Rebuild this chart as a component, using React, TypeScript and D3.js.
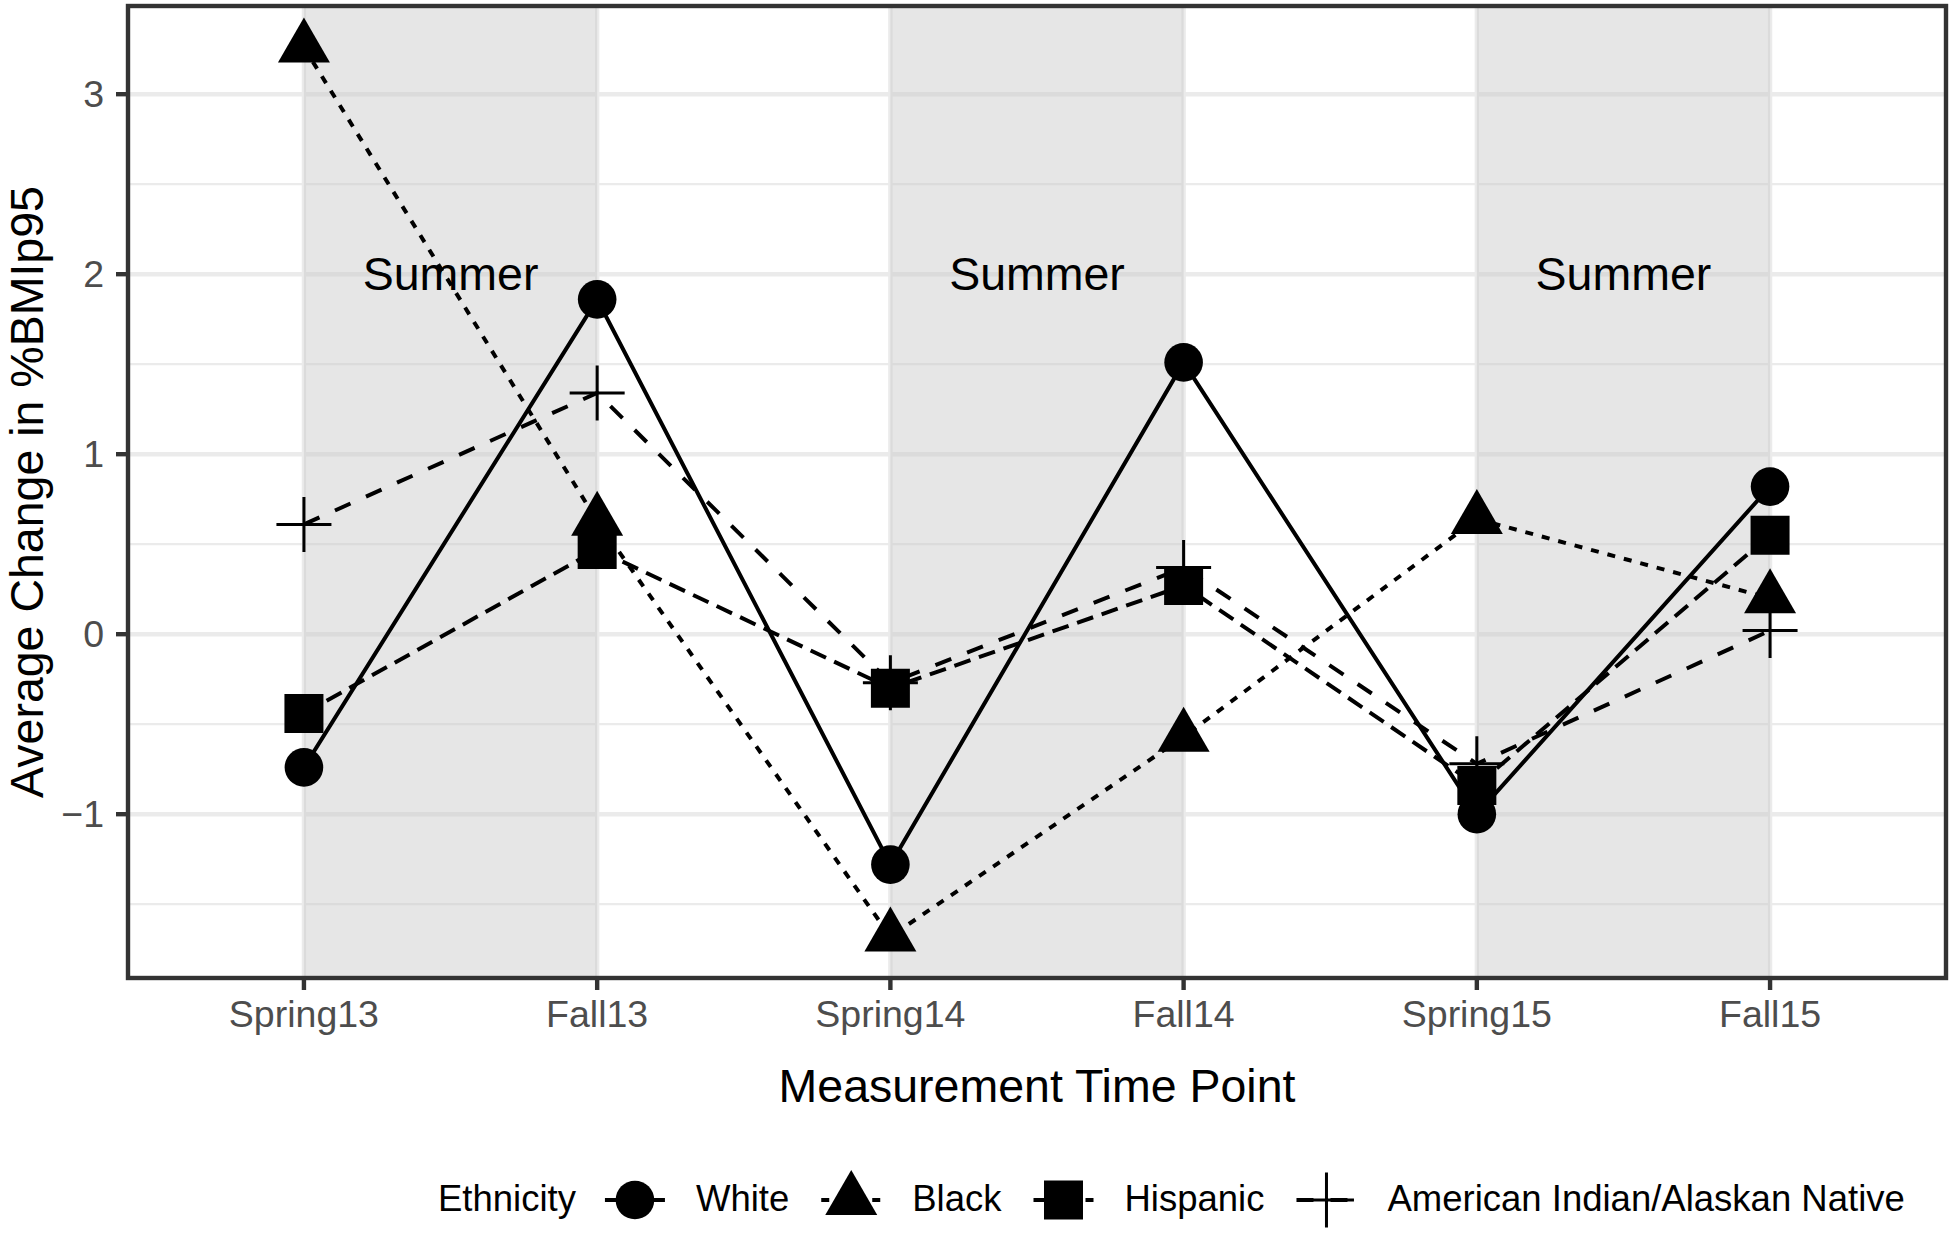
import React from "react";
import * as d3 from "d3";

// ---------- data ----------
const categories = ["Spring13", "Fall13", "Spring14", "Fall14", "Spring15", "Fall15"];
const seriesNames = ["White", "Black", "Hispanic", "American Indian/Alaskan Native"];
const whiteValues = [-0.74, 1.86, -1.28, 1.51, -1.0, 0.82];
const blackValues = [3.26, 0.63, -1.68, -0.57, 0.64, 0.2];
const hispanicValues = [-0.44, 0.47, -0.3, 0.27, -0.84, 0.55];
const aianValues = [0.61, 1.34, -0.27, 0.37, -0.72, 0.02];
const yMajorTicks = [-1, 0, 1, 2, 3];
const yMinorTicks = [-1.5, -0.5, 0.5, 1.5, 2.5];
const summerSpans: [string, string][] = [
  ["Spring13", "Fall13"],
  ["Spring14", "Fall14"],
  ["Spring15", "Fall15"],
];
const summerLabel = "Summer";
const summerLabelValue = 2;
const legendTitle = "Ethnicity";
const xTitle = "Measurement Time Point";
const yTitle = "Average Change in %BMIp95";

// ---------- styles ----------
const W = 1950;
const H = 1233;
const FONT = "'Liberation Sans', Arial, Helvetica, sans-serif";
const panel = { left: 128, right: 1946, top: 6, bottom: 978 };
const yDomain: [number, number] = [-1.91, 3.49];
const shapes = ["circle", "triangle", "square", "plus"];
const dashes = ["none", "8 9", "17 9", "17 17"];
const LINE_W = 4;
const GRID_MAJOR = 4.4;
const GRID_MINOR = 2.2;
const TICK_FONT = 37.5;

const seriesValues = [whiteValues, blackValues, hispanicValues, aianValues];

function measure(text: string, size: number) {
  const c = document.createElement("canvas").getContext("2d");
  if (!c) return text.length * size * 0.55;
  c.font = `${size}px 'Liberation Sans', Arial, sans-serif`;
  return c.measureText(text).width;
}

function Marker({ shape, x, y }: { shape: string; x: number; y: number }) {
  if (shape === "plus") {
    const a = 27.5;
    return (
      <path
        d={`M${x - a},${y}H${x + a}M${x},${y - a}V${y + a}`}
        stroke="#000"
        strokeWidth={3}
        fill="none"
      />
    );
  }
  let sym = d3.symbolCircle;
  let size = Math.PI * 19.3 * 19.3;
  if (shape === "triangle") {
    sym = d3.symbolTriangle;
    size = (Math.sqrt(3) / 4) * 52 * 52;
  } else if (shape === "square") {
    sym = d3.symbolSquare;
    size = 39 * 39;
  }
  const p = d3.symbol().type(sym).size(size)();
  return <path d={p || ""} transform={`translate(${x},${y})`} fill="#000" />;
}

export default function App() {
  const x = d3
    .scalePoint<string>()
    .domain(categories)
    .range([panel.left, panel.right])
    .padding(0.6);
  const y = d3.scaleLinear().domain(yDomain).range([panel.bottom, panel.top]);

  const line = d3
    .line<number>()
    .x((_, i) => x(categories[i]) as number)
    .y((d) => y(d));

  // legend layout
  const legendFont = 36.5;
  const legendY = 1200;
  let lx = 438;
  const titleX = lx;
  lx += measure(legendTitle, legendFont) + 29;
  const legendItems = seriesNames.map((name, i) => {
    const keyX = lx;
    const labelX = keyX + 60 + 31;
    lx = labelX + measure(name, legendFont) + 32;
    return { name, i, keyX, labelX };
  });

  const panelW = panel.right - panel.left;
  const panelH = panel.bottom - panel.top;

  return (
    <svg
      width={W}
      height={H}
      style={{ position: "absolute", left: 0, top: 0, background: "#fff" }}
      fontFamily={FONT}
    >
      <rect x={0} y={0} width={W} height={H} fill="#fff" />
      <defs>
        <clipPath id="panelClip">
          <rect x={panel.left} y={panel.top} width={panelW} height={panelH} />
        </clipPath>
      </defs>
      <g clipPath="url(#panelClip)">
        {yMinorTicks.map((t) => (
          <line
            key={"mn" + t}
            x1={panel.left}
            x2={panel.right}
            y1={y(t)}
            y2={y(t)}
            stroke="#EBEBEB"
            strokeWidth={GRID_MINOR}
          />
        ))}
        {yMajorTicks.map((t) => (
          <line
            key={"mj" + t}
            x1={panel.left}
            x2={panel.right}
            y1={y(t)}
            y2={y(t)}
            stroke="#EBEBEB"
            strokeWidth={GRID_MAJOR}
          />
        ))}
        {categories.map((c) => (
          <line
            key={"vx" + c}
            x1={x(c)}
            x2={x(c)}
            y1={panel.top}
            y2={panel.bottom}
            stroke="#EBEBEB"
            strokeWidth={GRID_MAJOR}
          />
        ))}
        {summerSpans.map(([a, b]) => (
          <rect
            key={"s" + a}
            x={x(a)}
            y={panel.top}
            width={(x(b) as number) - (x(a) as number)}
            height={panelH}
            fill="#C8C8C8"
            fillOpacity={0.45}
          />
        ))}
        {summerSpans.map(([a, b]) => (
          <text
            key={"t" + a}
            x={((x(a) as number) + (x(b) as number)) / 2}
            y={y(summerLabelValue)}
            dy="0.35em"
            textAnchor="middle"
            fontSize={46.5}
            fill="#000"
          >
            {summerLabel}
          </text>
        ))}
        {seriesValues.map((vals, i) => (
          <path
            key={"l" + i}
            d={line(vals) || ""}
            fill="none"
            stroke="#000"
            strokeWidth={LINE_W}
            strokeDasharray={dashes[i] === "none" ? undefined : dashes[i]}
          />
        ))}
        {seriesValues.map((vals, i) =>
          vals.map((v, j) => (
            <Marker key={`p${i}-${j}`} shape={shapes[i]} x={x(categories[j]) as number} y={y(v)} />
          ))
        )}
      </g>
      <rect
        x={panel.left}
        y={panel.top}
        width={panelW}
        height={panelH}
        fill="none"
        stroke="#333"
        strokeWidth={4.4}
      />
      {yMajorTicks.map((t) => (
        <g key={"yt" + t}>
          <line x1={panel.left - 12} x2={panel.left} y1={y(t)} y2={y(t)} stroke="#333" strokeWidth={4.4} />
          <text
            x={panel.left - 24}
            y={y(t)}
            dy="0.35em"
            textAnchor="end"
            fontSize={TICK_FONT}
            fill="#4D4D4D"
          >
            {t < 0 ? "\u2212" + Math.abs(t) : String(t)}
          </text>
        </g>
      ))}
      {categories.map((c) => (
        <g key={"xt" + c}>
          <line
            x1={x(c)}
            x2={x(c)}
            y1={panel.bottom}
            y2={panel.bottom + 12}
            stroke="#333"
            strokeWidth={4.4}
          />
          <text x={x(c)} y={1027} textAnchor="middle" fontSize={TICK_FONT} fill="#4D4D4D">
            {c}
          </text>
        </g>
      ))}
      <text
        x={(panel.left + panel.right) / 2}
        y={1102}
        textAnchor="middle"
        fontSize={46.5}
        fill="#000"
      >
        {xTitle}
      </text>
      <text
        transform={`translate(43,${(panel.top + panel.bottom) / 2}) rotate(-90)`}
        textAnchor="middle"
        fontSize={46.5}
        fill="#000"
      >
        {yTitle}
      </text>
      <text x={titleX} y={legendY} dy="0.3em" fontSize={legendFont} fill="#000">
        {legendTitle}
      </text>
      {legendItems.map(({ name, i, keyX, labelX }) => (
        <g key={"lg" + i}>
          <line
            x1={keyX}
            x2={keyX + 60}
            y1={legendY}
            y2={legendY}
            stroke="#000"
            strokeWidth={LINE_W}
            strokeDasharray={dashes[i] === "none" ? undefined : dashes[i]}
          />
          <Marker shape={shapes[i]} x={keyX + 30} y={legendY} />
          <text x={labelX} y={legendY} dy="0.3em" fontSize={legendFont} fill="#000">
            {name}
          </text>
        </g>
      ))}
    </svg>
  );
}
